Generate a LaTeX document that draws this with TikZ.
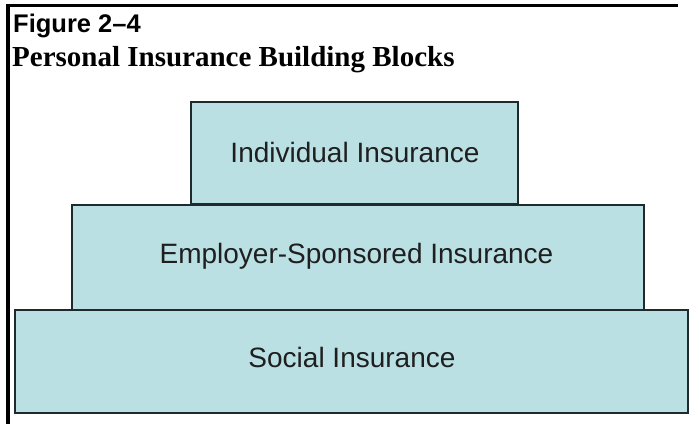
\documentclass[tikz,border=0pt]{standalone}
\usepackage{fontspec}
\setmainfont[Ligatures=TeX]{Liberation Serif}
\newfontfamily\arialfont[Ligatures=TeX]{Liberation Sans}
\begin{document}
\begin{tikzpicture}[x=1pt,y=-1pt,
  block/.style={draw=blockline, line width=2pt, fill=blockfill, inner sep=0pt},
  blocklabel/.style={font=\arialfont\fontsize{28}{31}\selectfont, text=black!88, anchor=base, inner sep=0pt},
  frame/.style={draw=black, line cap=butt}]
\definecolor{blockfill}{RGB}{186,224,227}
\definecolor{blockline}{RGB}{30,42,44}
\useasboundingbox (0,0) rectangle (689,424);
% frame: top rule and left rule
\coordinate (ftl) at (8,4);
\coordinate (ftr) at (678,5.5);
\coordinate (fbl) at (8,424);
\draw[frame, line width=3pt] (6,5.5) -- (ftr);
\draw[frame, line width=4pt] (ftl) -- (fbl);
% headings
\node[anchor=base west, inner sep=0pt, font=\arialfont\bfseries\fontsize{25.5}{28}\selectfont] (fig) at (13,32) {Figure 2--4};
\node[anchor=base west, inner sep=0pt, font=\bfseries\fontsize{29}{32}\selectfont] (title) at (12,66) {Personal Insurance Building Blocks};
% building blocks, bottom to top
\node[block, minimum width=673pt, minimum height=103pt] (social) at (351.5,361.5) {};
\node[block, minimum width=572pt, minimum height=105pt] (employer) at (358,257.5) {};
\node[block, minimum width=327pt, minimum height=102pt] (individual) at (354.5,153) {};
\node[blocklabel] (tsocial) at (352,367) {Social Insurance};
\node[blocklabel] (temployer) at (356.5,263) {Employer-Sponsored Insurance};
\node[blocklabel] (tindividual) at (355,162) {Individual Insurance};
\end{tikzpicture}
\end{document}
